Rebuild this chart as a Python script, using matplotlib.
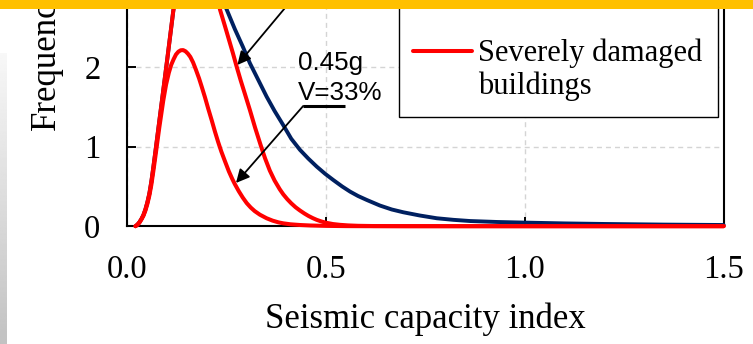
import matplotlib
matplotlib.use("Agg")
import matplotlib.pyplot as plt
from matplotlib.patches import Rectangle
from matplotlib.lines import Line2D
import numpy as np

# ---------------- data ----------------
x_blue = [0.02, 0.025, 0.03, 0.035, 0.04, 0.045, 0.05, 0.055, 0.06, 0.065,
          0.07, 0.08, 0.09, 0.1, 0.11, 0.115, 0.12, 0.13, 0.14, 0.15, 0.165,
          0.18, 0.195, 0.21, 0.23, 0.25, 0.27, 0.29, 0.308, 0.33, 0.35,
          0.37, 0.392, 0.412, 0.434, 0.455, 0.476, 0.497, 0.518, 0.54, 0.56,
          0.58, 0.602, 0.635, 0.665, 0.694, 0.735, 0.778, 0.82, 0.862, 0.93,
          1.0, 1.1, 1.2, 1.35, 1.5]
y_blue = [0.0, 0.02, 0.05, 0.09, 0.14, 0.21, 0.3, 0.41, 0.56, 0.74,
          0.93, 1.32, 1.71, 2.1, 2.5, 2.7, 2.88, 3.15, 3.35, 3.48, 3.55,
          3.5, 3.38, 3.2, 2.96, 2.72, 2.48, 2.26, 2.05, 1.83, 1.63,
          1.45, 1.27, 1.1, 0.96, 0.85, 0.75, 0.66, 0.58, 0.5, 0.435,
          0.38, 0.33, 0.26, 0.21, 0.175, 0.135, 0.10, 0.08, 0.065, 0.053,
          0.045, 0.035, 0.028, 0.02, 0.015]

x_red_a = [0.02, 0.025, 0.03, 0.035, 0.04, 0.045, 0.05, 0.055, 0.06, 0.065,
           0.07, 0.08, 0.09, 0.1, 0.11, 0.115, 0.12, 0.13, 0.14, 0.15, 0.16,
           0.17, 0.18, 0.19, 0.2, 0.21, 0.22, 0.233, 0.245, 0.255, 0.265,
           0.275, 0.285, 0.295, 0.308, 0.321, 0.335, 0.346, 0.358, 0.37,
           0.383, 0.392, 0.402, 0.412, 0.423, 0.434, 0.445, 0.455, 0.466,
           0.476, 0.488, 0.5, 0.517, 0.535, 0.555, 0.58, 0.62, 0.7, 1.0, 1.5]
y_red_a = [0.0, 0.02, 0.05, 0.09, 0.14, 0.21, 0.3, 0.41, 0.56, 0.74,
           0.93, 1.32, 1.71, 2.1, 2.5, 2.7, 2.88, 3.2, 3.42, 3.55, 3.6,
           3.6, 3.55, 3.45, 3.32, 3.15, 2.96, 2.72, 2.52, 2.35, 2.18,
           2.0, 1.83, 1.67, 1.46, 1.24, 1.02, 0.855, 0.70, 0.575,
           0.465, 0.40, 0.34, 0.288, 0.238, 0.197, 0.16, 0.13, 0.102,
           0.08, 0.059, 0.043, 0.027, 0.017, 0.01, 0.005, 0.002, 0.0005, 0.0, 0.0]

x_red_b = [0.02, 0.025, 0.03, 0.035, 0.04, 0.045, 0.05, 0.055, 0.06, 0.065,
           0.07, 0.08, 0.09, 0.097, 0.104, 0.11, 0.116, 0.122, 0.128, 0.134,
           0.14, 0.146, 0.152, 0.158, 0.165, 0.172, 0.18, 0.187, 0.195, 0.203,
           0.212, 0.22, 0.228, 0.236, 0.245, 0.255, 0.264, 0.27, 0.28, 0.29,
           0.3, 0.31, 0.32, 0.333, 0.35, 0.365, 0.38, 0.392, 0.41, 0.434,
           0.46, 0.5, 0.55, 0.6, 1.0, 1.5]
y_red_b = [0.0, 0.018, 0.045, 0.085, 0.13, 0.195, 0.28, 0.385, 0.52, 0.69,
           0.87, 1.24, 1.58, 1.78, 1.93, 2.03, 2.1, 2.16, 2.195, 2.213,
           2.215, 2.2, 2.17, 2.13, 2.06, 1.97, 1.86, 1.75, 1.62, 1.48,
           1.33, 1.19, 1.06, 0.94, 0.82, 0.69, 0.59, 0.53, 0.44, 0.36,
           0.29, 0.235, 0.19, 0.145, 0.10, 0.07, 0.048, 0.036, 0.024, 0.015,
           0.009, 0.004, 0.001, 0.0, 0.0, 0.0]

x_ticks = [0.0, 0.5, 1.0, 1.5]
x_tick_labels = ["0.0", "0.5", "1.0", "1.5"]
y_ticks = [0, 1, 2]
y_tick_labels = ["0", "1", "2"]

legend_label_lines = ["Severely damaged", "buildings"]
note_lines = ["0.45g", "V=33%"]

# ---------------- layout ----------------
W, H = 753, 344
fig = plt.figure(figsize=(W / 100, H / 100), dpi=100)
fig.patch.set_facecolor("white")

SERIF = ["Liberation Serif", "DejaVu Serif"]
SANS = ["Liberation Sans", "DejaVu Sans"]

x0_px, x1_px = 127.5, 723.7
ybot_px = 226.2
ax = fig.add_axes([x0_px / W, 1 - ybot_px / H, (x1_px - x0_px) / W, ybot_px / H])
ax.set_xlim(0, 1.5)
ax.set_ylim(0, ybot_px / 79.5)

BLUE = "#002060"
RED = "#FF0000"
ax.plot(x_blue, y_blue, color=BLUE, lw=2.8, zorder=3, clip_on=False,
        solid_capstyle="round", solid_joinstyle="round")
ax.plot(x_red_b, y_red_b, color=RED, lw=2.9, zorder=4, clip_on=False,
        solid_capstyle="round", solid_joinstyle="round")
ax.plot(x_red_a, y_red_a, color=RED, lw=2.9, zorder=4, clip_on=False,
        solid_capstyle="round", solid_joinstyle="round")

# grid
ax.set_axisbelow(True)
ax.grid(True, color="#d4d4d4", lw=1.0, linestyle=(0, (3.6, 2.9)))

# spines
for s in ["left", "bottom", "right", "top"]:
    ax.spines[s].set_linewidth(1.5)
    ax.spines[s].set_color("black")

ax.set_xticks(x_ticks)
ax.set_xticklabels(x_tick_labels, fontfamily=SERIF, fontsize=23.5)
ax.set_yticks(y_ticks)
ax.set_yticklabels(y_tick_labels, fontfamily=SERIF, fontsize=23.5)
ax.tick_params(axis="both", direction="in", length=6.5, width=1.4, colors="black")
ax.tick_params(axis="x", pad=20.5)
ax.tick_params(axis="y", pad=19.5)

ax.set_xlabel("Seismic capacity index", fontfamily=SERIF, fontsize=25,
              labelpad=12.5)
fig.text(46 / W, 1 - 57 / H, "Frequency", rotation=90, ha="center", va="center",
         fontfamily=SERIF, fontsize=25)

# annotations
ax.text(0.429, 1.965, note_lines[0], fontfamily=SANS, fontsize=18.7,
        ha="left", va="baseline")
ax.text(0.429, 1.587, note_lines[1], fontfamily=SANS, fontsize=18.7,
        ha="left", va="baseline")
ax.plot([0.442, 0.547], [1.512, 1.512], color="black", lw=2.2, zorder=5,
        solid_capstyle="butt")
ax.annotate("", xy=(0.273, 0.544), xytext=(0.442, 1.512),
            arrowprops=dict(arrowstyle="-|>", color="black", lw=1.3,
                            mutation_scale=20, shrinkA=0, shrinkB=0),
            annotation_clip=False, zorder=5)
ax.annotate("", xy=(0.2765, 2.028), xytext=(0.434, 2.971),
            arrowprops=dict(arrowstyle="-|>", color="black", lw=1.3,
                            mutation_scale=20, shrinkA=0, shrinkB=0),
            annotation_clip=False, zorder=5)

# legend (box extends above the visible area)
fig.add_artist(Rectangle((399 / W, 1 - 117 / H), (718 - 399) / W, 140 / H,
                         transform=fig.transFigure, facecolor="white",
                         edgecolor="black", lw=1.0, zorder=6))
fig.add_artist(Line2D([413 / W, 472 / W], [1 - 51 / H, 1 - 51 / H],
                      transform=fig.transFigure, color=RED, lw=2.9, zorder=7,
                      solid_capstyle="round"))
fig.text(478 / W, 1 - 60.5 / H, legend_label_lines[0], fontfamily=SERIF,
         fontsize=22, ha="left", va="baseline", zorder=7)
fig.text(478 / W, 1 - 94.5 / H, legend_label_lines[1], fontfamily=SERIF,
         fontsize=22, ha="left", va="baseline", zorder=7)

# slide decorations: yellow band at top, grey gradient strip at left
fig.add_artist(Rectangle((0, 1 - 9 / H), 1, 9 / H, transform=fig.transFigure,
                         facecolor="#FFC000", edgecolor="none", zorder=20))
gax = fig.add_axes([0, 0, 7 / W, (H - 53) / H])
grad = np.linspace(0.97, 0.76, 200).reshape(-1, 1)
gax.imshow(np.repeat(grad, 2, axis=1), cmap="gray", vmin=0, vmax=1,
           aspect="auto", interpolation="bilinear")
gax.axis("off")

fig.savefig("out.png", dpi=100, facecolor="white")
